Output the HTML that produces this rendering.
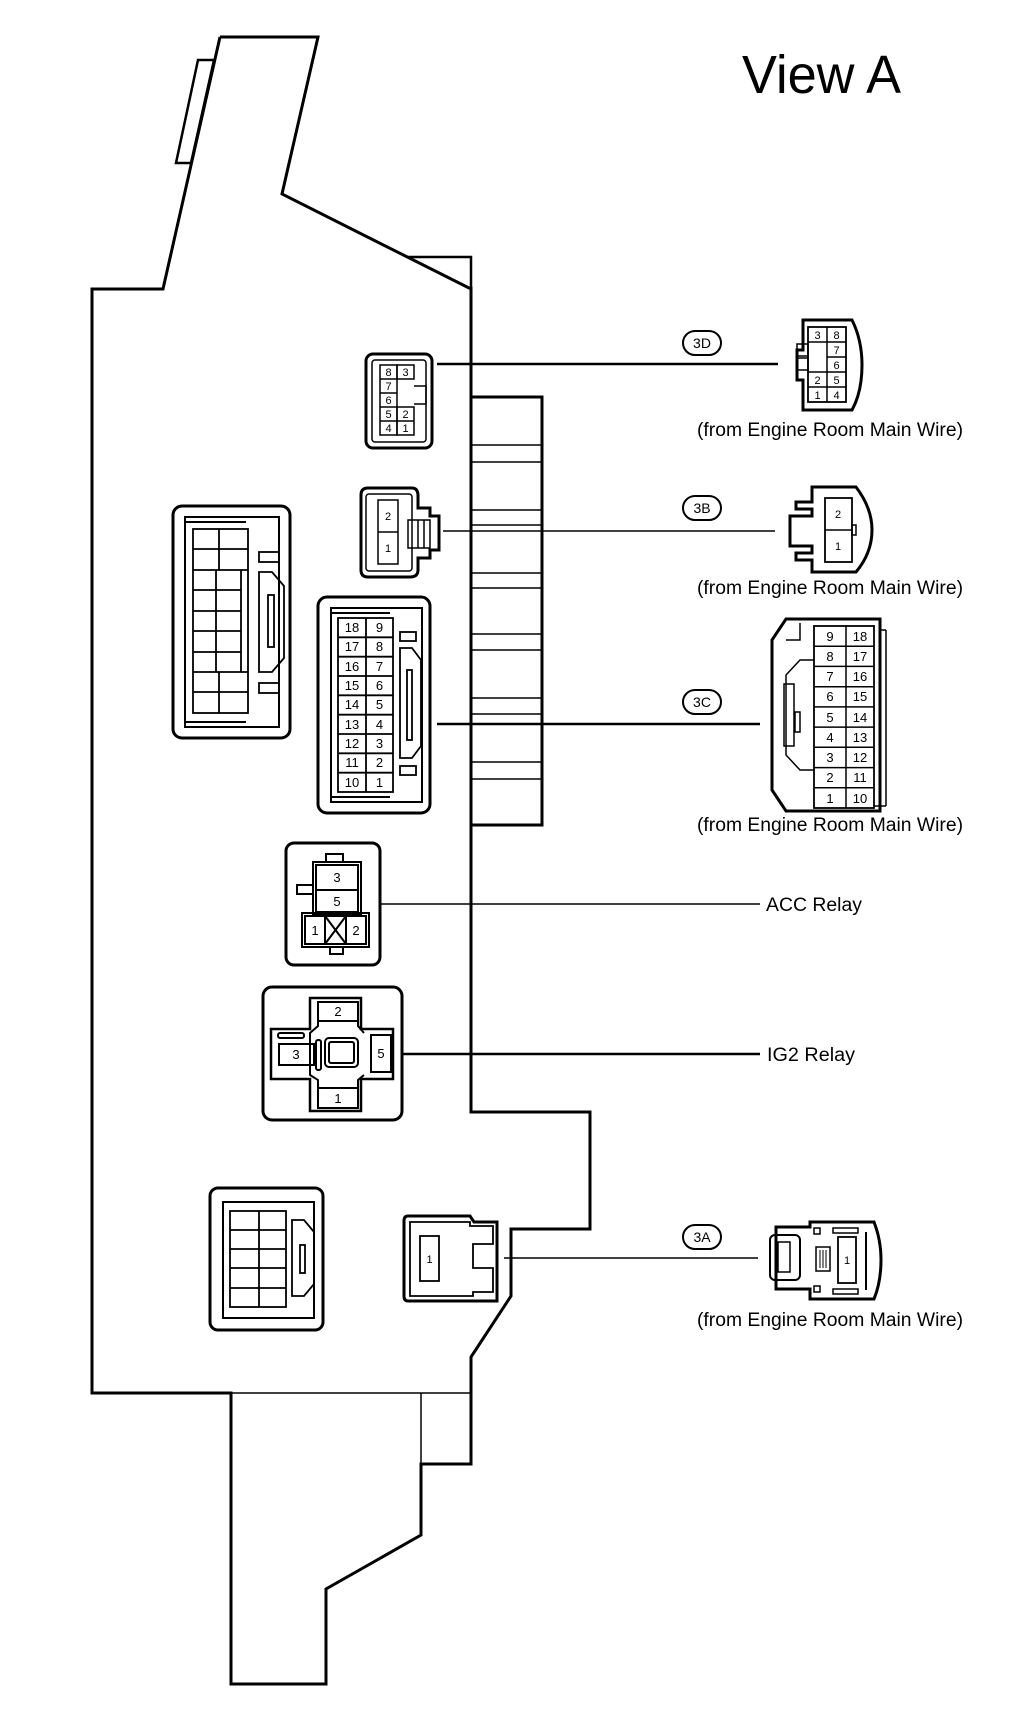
<!DOCTYPE html>
<html><head><meta charset="utf-8"><style>
html,body{margin:0;padding:0;background:#fff;}
svg{display:block;}
text{font-family:"Liberation Sans",sans-serif;fill:#000;}
</style></head><body>
<svg width="1024" height="1726" viewBox="0 0 1024 1726" xmlns="http://www.w3.org/2000/svg">
<g fill="none" stroke="#000" stroke-linejoin="miter">
<polyline stroke-width="3" points="220,37 318,37 282,194 469,288 471,288 471,1112 590,1112 590,1229 511,1229 511,1296 471,1357 471,1464 421,1464 421,1535 326,1589 326,1684 231,1684 231,1393 92,1393 92,289 163,289 220,37"/>
<polyline stroke-width="2.5" points="407,257 471,257 471,290"/>
<polygon stroke-width="2.5" points="198,60 214,60 191,163 176,163"/>
<line stroke-width="1.5" x1="231" y1="1393" x2="471" y2="1393"/>
<line stroke-width="1.5" x1="421" y1="1393" x2="421" y2="1464"/>
<polyline stroke-width="3" points="471,397 542,397 542,825 471,825"/>
<g stroke-width="1.5">
<line x1="471" y1="445" x2="542" y2="445"/><line x1="471" y1="462" x2="542" y2="462"/>
<line x1="471" y1="510" x2="542" y2="510"/><line x1="471" y1="525" x2="542" y2="525"/>
<line x1="471" y1="573" x2="542" y2="573"/><line x1="471" y1="588" x2="542" y2="588"/>
<line x1="471" y1="634" x2="542" y2="634"/><line x1="471" y1="650" x2="542" y2="650"/>
<line x1="471" y1="698" x2="542" y2="698"/><line x1="471" y1="714" x2="542" y2="714"/>
<line x1="471" y1="762" x2="542" y2="762"/><line x1="471" y1="779" x2="542" y2="779"/>
</g>
<line stroke-width="2.5" x1="437" y1="364" x2="778" y2="364"/>
<line stroke-width="1.5" x1="443" y1="531" x2="775" y2="531"/>
<line stroke-width="2.5" x1="437" y1="724" x2="760" y2="724"/>
<line stroke-width="1.5" x1="380" y1="904" x2="760" y2="904"/>
<line stroke-width="2.5" x1="402" y1="1054" x2="760" y2="1054"/>
<line stroke-width="1.5" x1="504" y1="1258" x2="758" y2="1258"/>
<rect stroke-width="2" x="683" y="331" width="38" height="24" rx="12"/>
<rect stroke-width="2" x="683" y="496" width="38" height="24" rx="12"/>
<rect stroke-width="2" x="683" y="690" width="38" height="24" rx="12"/>
<rect stroke-width="2" x="683" y="1225" width="38" height="24" rx="12"/>

<rect stroke-width="3" x="366" y="354" width="66" height="94" rx="7"/>
<rect stroke-width="1.5" x="372" y="360" width="54" height="82" rx="3"/>
<g stroke-width="1.5">
<rect x="380" y="365" width="17" height="70"/>
<rect x="397" y="365" width="17" height="14"/>
<rect x="397" y="407" width="17" height="28"/>
<line x1="380" y1="379" x2="397" y2="379"/><line x1="380" y1="393" x2="397" y2="393"/><line x1="380" y1="407" x2="397" y2="407"/><line x1="380" y1="421" x2="414" y2="421"/>
<polyline points="414,386 426,386 426,404 414,404"/>
</g>
<path stroke-width="3" d="M368,488 H412 Q418,488 418,496 V508 H430 V516 H439 V550 H430 V558 H418 V570 Q418,577 410,577 H368 Q361,577 361,570 V495 Q361,488 368,488 Z"/>
<rect stroke-width="1.5" x="366" y="494" width="46" height="77" rx="3"/>
<rect stroke-width="1.5" x="378" y="500" width="20" height="64"/>
<line stroke-width="1.5" x1="378" y1="532" x2="398" y2="532"/>
<rect stroke-width="1.5" x="408" y="520" width="22" height="28"/>
<line stroke-width="1.5" x1="418" y1="520" x2="418" y2="548"/><line stroke-width="1.5" x1="424" y1="520" x2="424" y2="548"/>
<rect stroke-width="3" x="173" y="506" width="117" height="232" rx="9"/>
<rect stroke-width="2" x="185" y="517" width="94" height="210"/>
<line stroke-width="2" x1="185" y1="522" x2="246" y2="522"/>
<line stroke-width="2" x1="185" y1="722" x2="246" y2="722"/>
<g stroke-width="1.8">
<rect x="193" y="529" width="55" height="184"/>
<line x1="193" y1="549" x2="248" y2="549"/><line x1="193" y1="570" x2="248" y2="570"/>
<line x1="193" y1="590" x2="241" y2="590"/><line x1="193" y1="611" x2="241" y2="611"/><line x1="193" y1="631" x2="241" y2="631"/><line x1="193" y1="652" x2="241" y2="652"/><line x1="193" y1="672" x2="248" y2="672"/><line x1="193" y1="692" x2="248" y2="692"/>
<line x1="219" y1="529" x2="219" y2="570"/><line x1="216" y1="570" x2="216" y2="672"/><line x1="219" y1="672" x2="219" y2="713"/>
<line x1="241" y1="570" x2="241" y2="672"/>
<rect x="259" y="552" width="20" height="10"/><rect x="259" y="683" width="20" height="10"/>
<path d="M259,572 H272 L284,586 V658 L272,672 H259 Z"/>
<rect x="268" y="595" width="6" height="52"/>
</g>
<rect stroke-width="3" x="318" y="597" width="112" height="216" rx="9"/>
<rect stroke-width="2" x="331" y="608" width="91" height="194"/>
<line stroke-width="2" x1="331" y1="613" x2="390" y2="613"/>
<line stroke-width="2" x1="331" y1="797" x2="390" y2="797"/>
<g stroke-width="1.8">
<rect x="338" y="618" width="55" height="174"/>
<line x1="366" y1="618" x2="366" y2="792"/>
<line x1="338" y1="637.3" x2="393" y2="637.3"/><line x1="338" y1="656.7" x2="393" y2="656.7"/><line x1="338" y1="676" x2="393" y2="676"/><line x1="338" y1="695.3" x2="393" y2="695.3"/><line x1="338" y1="714.7" x2="393" y2="714.7"/><line x1="338" y1="734" x2="393" y2="734"/><line x1="338" y1="753.3" x2="393" y2="753.3"/><line x1="338" y1="772.7" x2="393" y2="772.7"/>
<rect x="400" y="632" width="16" height="9"/><rect x="400" y="766" width="16" height="9"/>
<path d="M400,648 H412 L421,660 V746 L412,758 H400 Z"/>
<rect x="407" y="670" width="5" height="70"/>
</g>
<rect stroke-width="3" x="286" y="843" width="94" height="122" rx="8"/>
<g stroke-width="2">
<rect x="326" y="854" width="17" height="8"/>
<rect x="313" y="862" width="48" height="52"/>
<rect x="316" y="865" width="42" height="25"/><rect x="316" y="890" width="42" height="22"/>
<rect x="297" y="885" width="16" height="9"/>
<rect x="302" y="913" width="67" height="34"/>
<rect x="305" y="916" width="61" height="28"/>
<line x1="325" y1="916" x2="325" y2="944"/><line x1="346" y1="916" x2="346" y2="944"/>
<line x1="325" y1="916" x2="346" y2="944"/><line x1="346" y1="916" x2="325" y2="944"/>
<rect x="330" y="947" width="13" height="7"/>
</g>
<rect stroke-width="3" x="263" y="987" width="139" height="133" rx="9"/>
<path stroke-width="2.5" d="M310,998 H361 V1029 H393 V1079 H361 V1111 H310 V1079 H271 V1029 H310 Z"/>
<g stroke-width="2">
<rect x="318" y="1002" width="40" height="19"/><rect x="318" y="1088" width="40" height="20"/>
<rect x="279" y="1044" width="35" height="21"/><rect x="371" y="1035" width="20" height="37"/>
<rect x="325" y="1038" width="33" height="29" rx="4"/><rect x="329" y="1042" width="25" height="21" rx="2"/>
<rect x="316" y="1040" width="5" height="30" rx="2"/>
<rect x="278" y="1033" width="26" height="5" rx="2"/>
<path d="M318,1021 V1026 L310,1033 V1075 L318,1080 V1088 M358,1021 V1026 L364,1033 M358,1088 V1080 L364,1075"/>
</g>
<rect stroke-width="3" x="210" y="1188" width="113" height="142" rx="8"/>
<rect stroke-width="2" x="223" y="1202" width="91" height="116"/>
<g stroke-width="1.8">
<rect x="230" y="1211" width="56" height="96"/>
<line x1="259" y1="1211" x2="259" y2="1307"/>
<line x1="230" y1="1230" x2="286" y2="1230"/><line x1="230" y1="1249" x2="286" y2="1249"/><line x1="230" y1="1268" x2="286" y2="1268"/><line x1="230" y1="1288" x2="286" y2="1288"/>
<path d="M292,1220 H304 L314,1232 V1284 L304,1296 H292 Z"/>
<rect x="300" y="1245" width="5" height="28"/>
</g>
<path stroke-width="3" d="M408,1216 H470 L474,1222 H497 V1301 H408 Q404,1301 404,1296 V1221 Q404,1216 408,1216 Z"/>
<path stroke-width="1.8" d="M410,1222 H470 V1226 H493 V1244 H473 V1268 H493 V1292 H473 V1296 H410 Z"/>
<rect stroke-width="1.8" x="420" y="1236" width="19" height="45"/>

<path stroke-width="3" d="M803,320 H852 Q862,340 862,365 Q862,392 852,410 H803 V380 H797 V350 H803 Z"/>
<rect stroke-width="1.8" x="808" y="327" width="38" height="75"/>
<g stroke-width="1.5">
<line x1="827" y1="327" x2="827" y2="402"/>
<line x1="808" y1="342" x2="846" y2="342"/><line x1="827" y1="357" x2="846" y2="357"/><line x1="808" y1="372" x2="846" y2="372"/><line x1="808" y1="387" x2="846" y2="387"/>
<rect x="797" y="344" width="11" height="12"/><rect x="797" y="358" width="11" height="12"/>
</g>
<path stroke-width="3" d="M812,487 H856 Q872,508 872,530 Q872,553 856,572 H812 V560 H796 V553 H812 V546 H790 V516 H812 V509 H796 V502 H812 Z"/>
<rect stroke-width="1.8" x="825" y="498" width="27" height="64"/>
<line stroke-width="1.5" x1="825" y1="530" x2="852" y2="530"/>
<rect stroke-width="1.5" x="852" y="525" width="4" height="10"/>
<path stroke-width="3" d="M786,619 H880 V811 H786 L772,790 V640 Z"/>
<rect stroke-width="1.8" x="814" y="626" width="60" height="182"/>
<g stroke-width="1.5">
<line x1="846" y1="626" x2="846" y2="808"/>
<line x1="814" y1="646.2" x2="874" y2="646.2"/><line x1="814" y1="666.4" x2="874" y2="666.4"/><line x1="814" y1="686.7" x2="874" y2="686.7"/><line x1="814" y1="706.9" x2="874" y2="706.9"/><line x1="814" y1="727.1" x2="874" y2="727.1"/><line x1="814" y1="747.3" x2="874" y2="747.3"/><line x1="814" y1="767.6" x2="874" y2="767.6"/><line x1="814" y1="787.8" x2="874" y2="787.8"/>
<polyline points="786,640 800,640 800,623 M786,790 800,790 800,808"/>
<path d="M814,660 H800 L786,675 V755 L800,770 H814"/>
<rect x="784" y="684" width="10" height="62"/>
<rect x="795" y="712" width="5" height="20"/>
<line x1="880" y1="630" x2="886" y2="630"/><line x1="886" y1="630" x2="886" y2="806"/><line x1="874" y1="806" x2="886" y2="806"/>
</g>
<path stroke-width="3" d="M810,1222 H874 Q881,1240 881,1260 Q881,1282 874,1299 H810 V1289 H776 V1227 H810 Z"/>
<rect stroke-width="2" x="770" y="1235" width="30" height="45" rx="5"/>
<rect stroke-width="1.5" x="778" y="1242" width="12" height="30"/>
<rect stroke-width="1.8" x="838" y="1237" width="18" height="46"/>
<rect stroke-width="1.5" x="816" y="1247" width="14" height="24"/>
<line stroke-width="1" x1="820" y1="1250" x2="820" y2="1268"/><line stroke-width="1" x1="823" y1="1250" x2="823" y2="1268"/><line stroke-width="1" x1="826" y1="1250" x2="826" y2="1268"/>
<rect stroke-width="1.5" x="814" y="1228" width="6" height="6"/><rect stroke-width="1.5" x="814" y="1286" width="6" height="6"/>
<rect stroke-width="1.5" x="833" y="1228" width="25" height="5"/><rect stroke-width="1.5" x="833" y="1289" width="25" height="5"/>
<line stroke-width="2" x1="866" y1="1232" x2="866" y2="1290"/>
</g>

<text x="742" y="93" font-size="54" textLength="159" lengthAdjust="spacingAndGlyphs">View A</text>
<g font-size="14" text-anchor="middle">
<text x="702" y="348">3D</text><text x="702" y="513">3B</text><text x="702" y="707">3C</text><text x="702" y="1242">3A</text>
</g>
<g font-size="19">
<text x="697" y="436" textLength="266" lengthAdjust="spacingAndGlyphs">(from Engine Room Main Wire)</text>
<text x="697" y="594" textLength="266" lengthAdjust="spacingAndGlyphs">(from Engine Room Main Wire)</text>
<text x="697" y="831" textLength="266" lengthAdjust="spacingAndGlyphs">(from Engine Room Main Wire)</text>
<text x="697" y="1326" textLength="266" lengthAdjust="spacingAndGlyphs">(from Engine Room Main Wire)</text>
<text x="766" y="911" textLength="96" lengthAdjust="spacingAndGlyphs">ACC Relay</text>
<text x="767" y="1061" textLength="88" lengthAdjust="spacingAndGlyphs">IG2 Relay</text>
</g>
<g font-size="11" text-anchor="middle">
<text x="388.5" y="376">8</text><text x="405.5" y="376">3</text><text x="388.5" y="390">7</text><text x="388.5" y="404">6</text><text x="388.5" y="418">5</text><text x="405.5" y="418">2</text><text x="388.5" y="432">4</text><text x="405.5" y="432">1</text>
<text x="817.5" y="339">3</text><text x="836.5" y="339">8</text><text x="836.5" y="354">7</text><text x="836.5" y="369">6</text><text x="817.5" y="384">2</text><text x="836.5" y="384">5</text><text x="817.5" y="399">1</text><text x="836.5" y="399">4</text>
<text x="388" y="520">2</text><text x="388" y="552">1</text>
<text x="838" y="518">2</text><text x="838" y="550">1</text>
</g>
<g font-size="13" text-anchor="middle">
<text x="352" y="632">18</text><text x="379.5" y="632">9</text>
<text x="352" y="651">17</text><text x="379.5" y="651">8</text>
<text x="352" y="671">16</text><text x="379.5" y="671">7</text>
<text x="352" y="690">15</text><text x="379.5" y="690">6</text>
<text x="352" y="709">14</text><text x="379.5" y="709">5</text>
<text x="352" y="729">13</text><text x="379.5" y="729">4</text>
<text x="352" y="748">12</text><text x="379.5" y="748">3</text>
<text x="352" y="767">11</text><text x="379.5" y="767">2</text>
<text x="352" y="787">10</text><text x="379.5" y="787">1</text>
<text x="830" y="641">9</text><text x="860" y="641">18</text>
<text x="830" y="661">8</text><text x="860" y="661">17</text>
<text x="830" y="681">7</text><text x="860" y="681">16</text>
<text x="830" y="701">6</text><text x="860" y="701">15</text>
<text x="830" y="722">5</text><text x="860" y="722">14</text>
<text x="830" y="742">4</text><text x="860" y="742">13</text>
<text x="830" y="762">3</text><text x="860" y="762">12</text>
<text x="830" y="782">2</text><text x="860" y="782">11</text>
<text x="830" y="803">1</text><text x="860" y="803">10</text>
<text x="337" y="882">3</text><text x="337" y="906">5</text>
<text x="315" y="935">1</text><text x="356" y="935">2</text>
<text x="338" y="1016">2</text><text x="338" y="1103">1</text>
<text x="296" y="1059">3</text><text x="381" y="1058">5</text>
</g>
<g font-size="11" text-anchor="middle">
<text x="429.5" y="1263">1</text><text x="847" y="1264">1</text>
</g>
</svg>
</body></html>
